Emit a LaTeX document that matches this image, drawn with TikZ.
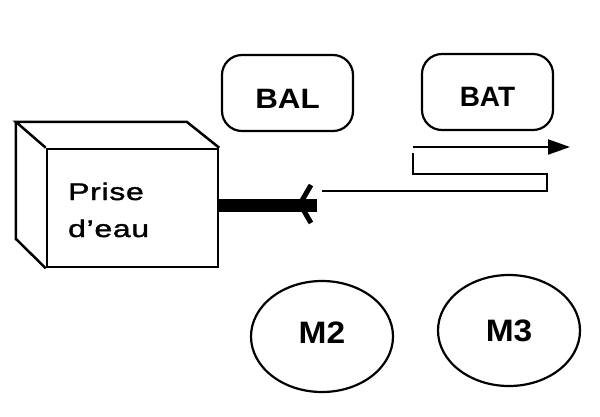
\documentclass[tikz,border=0pt]{standalone}
\usepackage{fontspec}
\setmainfont{Liberation Sans}
\newfontfamily\prisefont[FakeStretch=1.33,LetterSpace=3,FakeBold=1.5]{Liberation Sans}
\newfontfamily\balfont[FakeStretch=1.12]{Liberation Sans}
\newfontfamily\motfont[FakeStretch=1.08]{Liberation Sans}
\usetikzlibrary{shapes.geometric,arrows.meta}
\tikzset{
  wire/.style={line width=2.2pt, line join=miter},
  roundbox/.style={draw, line width=2.2pt, rounded corners=20pt, minimum width=131pt, minimum height=76pt, inner sep=0pt,
     font=\bfseries\fontsize{28}{30}\selectfont},
  motor/.style={draw, ellipse, line width=2.2pt, minimum width=142pt, minimum height=111pt, inner sep=0pt,
     font=\motfont\bfseries\fontsize{31}{33}\selectfont},
  facebox/.style={draw, line width=2.5pt, minimum width=171pt, minimum height=118pt, inner sep=0pt},
  boxedge/.style={line width=2.5pt, line join=miter},
  prisetxt/.style={anchor=base west, inner sep=0pt, font=\prisefont\fontsize{24}{26}\selectfont},
}
\begin{document}
\begin{tikzpicture}[x=1pt,y=-1pt]
\useasboundingbox (0,0) rectangle (600,416);
% box
\node[facebox] (prise) at (132.5,208) {};
\draw[boxedge] (prise.north west) -- ++(-30,-26) coordinate (btl) -- ++(171,0) -- (prise.north east);
\draw[boxedge] (btl) -- ++(0,117) -- (prise.south west);
\node[prisetxt] (p1) at (68,200) {Prise};
\node[prisetxt] (p2) at (68,237) {d’eau};
% rounded boxes
\node[roundbox, text height=30pt, font=\balfont\bfseries\fontsize{28}{30}\selectfont] (bal) at (287.5,93) {BAL};
\node[roundbox, text height=29pt] (bat) at (487.5,92) {BAT};
% motors
\node[motor, text depth=7pt] (m2) at (322,336.5) {M2};
\node[motor] (m3) at (509,330.5) {M3};
% thick pipe with chevron
\coordinate (pend) at (317,205);
\draw[line width=13pt] ([yshift=3pt]prise.east) -- (pend);
\coordinate (cv) at (300,204);
\coordinate (cu) at (311,185);
\coordinate (cl) at (311,223);
\draw[line width=5pt] (cu) -- (cv) -- (cl);
% flow arrows
\coordinate (a1) at (413,147);
\coordinate (a2) at (570,147);
\draw[wire, -{Triangle[length=22pt,width=15pt]}] (a1) -- (a2);
\coordinate (r1) at (413,153);
\coordinate (r2) at (413,174);
\coordinate (r3) at (547,174);
\coordinate (r4) at (547,191);
\coordinate (r5) at (322,191);
\draw[wire] (r1) -- (r2) -- (r3) -- (r4) -- (r5);
\end{tikzpicture}
\end{document}
